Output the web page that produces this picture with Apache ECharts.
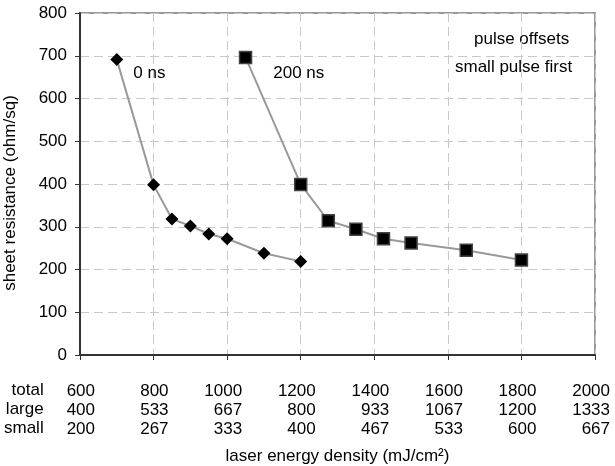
<!DOCTYPE html>
<html>
<head>
<meta charset="utf-8">
<script src="https://cdn.jsdelivr.net/npm/echarts@6/dist/echarts.min.js"></script>
<style>
  html, body { margin: 0; padding: 0; background: #fff; }
  #chart { width: 615px; height: 466px; }
</style>
</head>
<body>
<div id="chart"></div>
<script>
// Data
const offset0Energy = [700, 800, 850, 900, 950, 1000, 1100, 1200];
const offset0Resistance = [691, 398, 318, 302, 283, 272, 238, 219];

const offset200Energy = [1050, 1200, 1275, 1350, 1425, 1500, 1650, 1800];
const offset200Resistance = [696, 399, 314, 294, 272, 262, 245, 222];

// Tick label rows under the x axis
const totalTicks = ['600', '800', '1000', '1200', '1400', '1600', '1800', '2000'];
const largeTicks = ['400', '533', '667', '800', '933', '1067', '1200', '1333'];
const smallTicks = ['200', '267', '333', '400', '467', '533', '600', '667'];
const rowNames = ['total', 'large', 'small'];

const fontFamily = '"Liberation Sans", Arial, sans-serif';
const chart = echarts.init(document.getElementById('chart'));

const zip = (xs, ys) => xs.map((x, i) => [x, ys[i]]);

const option = {
    backgroundColor: '#fff',
    animation: false,
    textStyle: { fontFamily: fontFamily, color: '#000' },
    grid: {
        left: 80, right: 20, top: 13, bottom: 111,
        containLabel: false,
        outerBoundsMode: 'none',
        show: true,
        borderColor: '#999',
        borderWidth: 2
    },
    xAxis: {
        type: 'value',
        min: 600,
        max: 2000,
        interval: 200,
        name: 'laser energy density (mJ/cm²)',
        nameLocation: 'middle',
        nameGap: 93,
        nameTextStyle: { fontSize: 17, color: '#000', fontFamily: fontFamily },
        axisLine: { show: true, onZero: false, lineStyle: { color: '#333', width: 2 } },
        axisTick: { show: true, length: 5, lineStyle: { color: '#333' } },
        axisLabel: {
            margin: 27,
            color: '#000',
            fontSize: 17,
            lineHeight: 19,
            formatter: function (value) {
                const i = Math.round((value - 600) / 200);
                return '{n|' + totalTicks[i] + '}\n{n|' + largeTicks[i] + '}\n{n|' + smallTicks[i] + '}';
            },
            rich: {
                n: { width: 30, align: 'right', fontSize: 17, lineHeight: 19, color: '#000', fontFamily: fontFamily }
            }
        },
        splitLine: { show: true, lineStyle: { color: '#c8c8c8', type: [9, 5], width: 1 } }
    },
    yAxis: {
        type: 'value',
        min: 0,
        max: 800,
        interval: 100,
        name: 'sheet resistance (ohm/sq)',
        nameLocation: 'middle',
        nameGap: 61,
        nameTextStyle: { fontSize: 17, color: '#000', fontFamily: fontFamily, padding: [0, 18, 0, 0] },
        axisLine: { show: true, lineStyle: { color: '#333', width: 2 } },
        axisTick: { show: true, length: 5, lineStyle: { color: '#333' } },
        axisLabel: { margin: 13, color: '#000', fontSize: 17 },
        splitLine: { show: true, lineStyle: { color: '#c8c8c8', type: [9, 5], width: 1 } }
    },
    graphic: [
        {
            type: 'group',
            left: 4,
            top: 382,
            children: rowNames.map((name, i) => ({
                type: 'text',
                x: 40,
                y: i * 19,
                style: {
                    text: name, fontSize: 17, fontFamily: fontFamily,
                    fill: '#000', align: 'right', verticalAlign: 'top'
                }
            }))
        },
        {
            type: 'text',
            left: 474,
            top: 31,
            style: { text: 'pulse offsets', fontSize: 17, fontFamily: fontFamily, fill: '#000' }
        },
        {
            type: 'text',
            left: 455,
            top: 59,
            style: { text: 'small pulse first', fontSize: 17, fontFamily: fontFamily, fill: '#000' }
        }
    ],
    series: [
        {
            name: '0 ns',
            type: 'line',
            data: zip(offset0Energy, offset0Resistance).map((d, i) => i === 0 ? {
                value: d,
                label: { show: true, formatter: '0 ns', position: 'right', distance: 10, offset: [0, 14], fontSize: 17, color: '#000' }
            } : d),
            symbol: 'diamond',
            symbolSize: 13,
            itemStyle: { color: '#000' },
            lineStyle: { color: '#999', width: 2 }
        },
        {
            name: '200 ns',
            type: 'line',
            data: zip(offset200Energy, offset200Resistance).map((d, i) => i === 0 ? {
                value: d,
                label: { show: true, formatter: '200 ns', position: 'right', distance: 21, offset: [0, 16], fontSize: 17, color: '#000' }
            } : d),
            symbol: 'rect',
            symbolSize: 12,
            itemStyle: { color: '#000', borderColor: '#444', borderWidth: 1.5 },
            lineStyle: { color: '#999', width: 2 }
        }
    ]
};

chart.setOption(option);
</script>
</body>
</html>
